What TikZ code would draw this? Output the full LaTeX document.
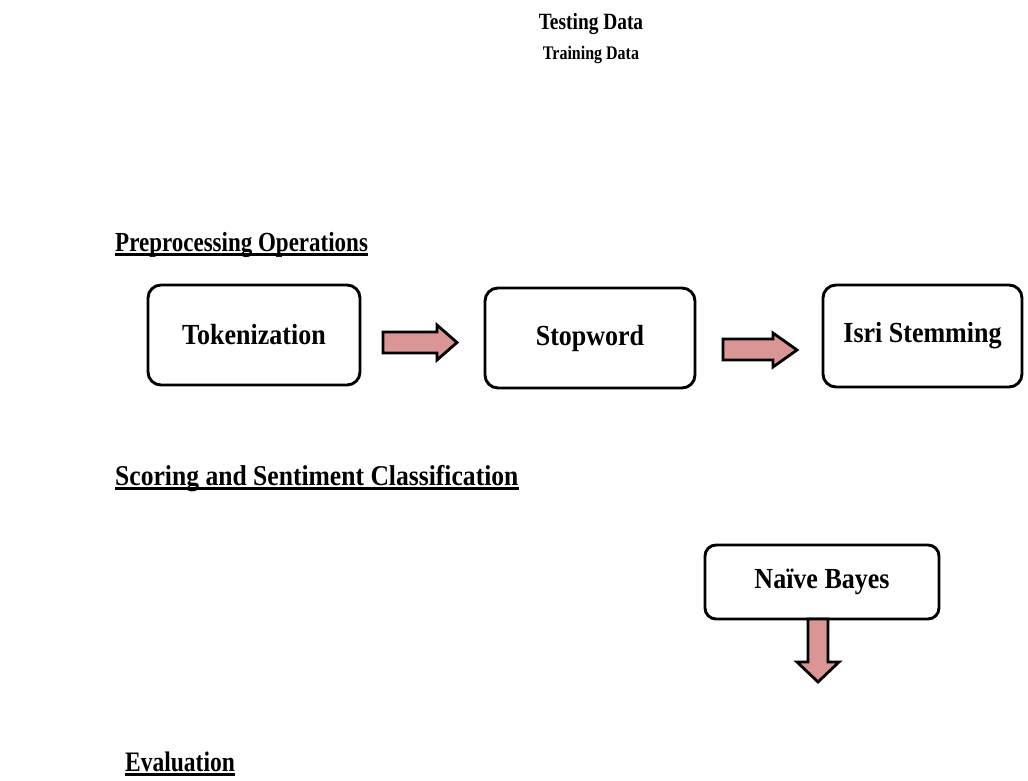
\documentclass[tikz,border=0pt]{standalone}
\usepackage{graphicx}
\usepackage{fontspec}
\setmainfont{Liberation Serif}
\definecolor{arrowpink}{RGB}{217,150,148}
\newcommand\tallTxt[2]{\scalebox{1}[#1]{#2}}
\tikzset{
  procbox/.style={draw=black, line width=2.9pt, rounded corners=13pt, fill=white, inner sep=0pt,
    font=\bfseries\fontsize{26}{30}\selectfont},
  heading/.style={anchor=base west, inner sep=0pt},
  toptext/.style={anchor=base, inner sep=0pt},
  blockarrow/.style={draw=black, line width=2.8pt, fill=arrowpink, line join=miter},
  uline/.style={line width=2.5pt, black}
}
\begin{document}
\begin{tikzpicture}[x=1pt,y=-1pt]
\useasboundingbox (0,0) rectangle (1028,781);

% top texts
\node[toptext, font=\bfseries\fontsize{19.4}{22}\selectfont] (testing) at (591,30) {\tallTxt{1.2}{Testing Data}};
\node[toptext, font=\bfseries\fontsize{16}{19}\selectfont] (training) at (591,60) {\tallTxt{1.2}{Training Data}};

% headings
\node[heading, font=\bfseries\fontsize{23}{27}\selectfont] (pre) at (115,251) {\tallTxt{1.2}{Preprocessing Operations}};
\draw[uline] ([yshift=-3.5pt]pre.base west) -- ([yshift=-3.5pt]pre.base east);
\node[heading, font=\bfseries\fontsize{25.6}{30}\selectfont] (score) at (115,485) {\tallTxt{1.12}{Scoring and Sentiment Classification}};
\draw[uline] ([yshift=-3.5pt]score.base west) -- ([yshift=-3.5pt]score.base east);
\node[heading, font=\bfseries\fontsize{23.5}{27}\selectfont] (eval) at (125,771) {\tallTxt{1.2}{Evaluation}};
\draw[uline] ([yshift=-3.5pt]eval.base west) -- ([yshift=-3.5pt]eval.base east);

% boxes
\node[procbox, minimum width=212pt, minimum height=100pt] (tok) at (254,335) {\tallTxt{1.12}{Tokenization}};
\node[procbox, minimum width=210pt, minimum height=100pt] (stop) at (590,338) {\tallTxt{1.12}{Stopword}};
\node[procbox, minimum width=199pt, minimum height=102pt] (isri) at (922.5,336) {\tallTxt{1.12}{Isri Stemming}};
\node[procbox, minimum width=234pt, minimum height=74pt, rounded corners=11pt] (nb) at (822,582) {\tallTxt{1.12}{Naïve Bayes}};

% block arrows
\draw[blockarrow] (383,332) -- (437,332) -- (437,325) -- (457,342.5) -- (437,360) -- (437,353) -- (383,353) -- cycle;
\draw[blockarrow] (723,339) -- (773,339) -- (773,333) -- (797,350) -- (773,367) -- (773,360) -- (723,360) -- cycle;
\draw[blockarrow] (808,619) -- (808,662) -- (797,662) -- (818,682) -- (839,662) -- (828,662) -- (828,619) -- cycle;
\end{tikzpicture}
\end{document}
